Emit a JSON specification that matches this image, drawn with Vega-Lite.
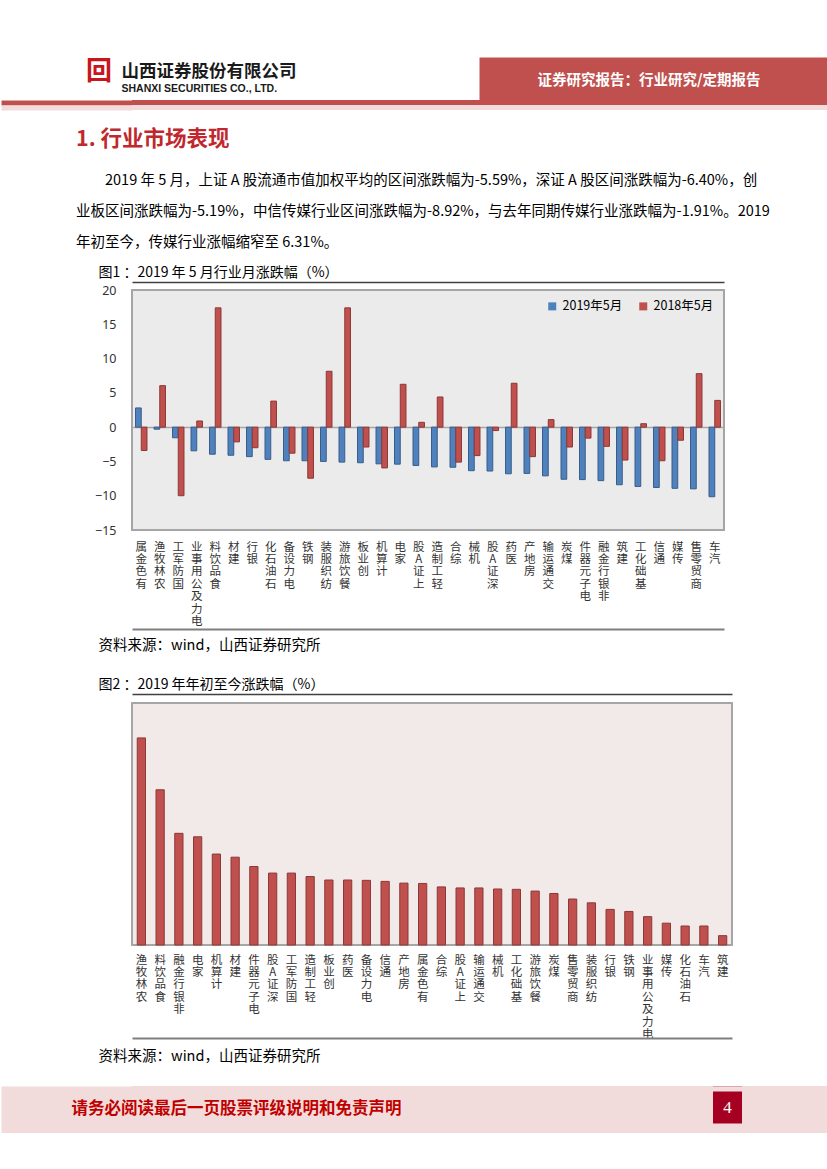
{
  "$schema": "https://vega.github.io/schema/vega-lite/v6.json",
  "background": "#FFFFFF",
  "padding": {"left": 0, "top": 57, "right": 0, "bottom": 0},
  "config": {"view": {"stroke": null}, "font": "Noto Sans CJK SC"},
  "resolve": {"scale": {"color": "independent"}, "legend": {"color": "independent"}},
  "datasets": {
    "monthly": [
      {"cat": "有色金属", "series": "2019年5月", "value": 2.8}, {"cat": "有色金属", "series": "2018年5月", "value": -3.4},
      {"cat": "农林牧渔", "series": "2019年5月", "value": -0.3}, {"cat": "农林牧渔", "series": "2018年5月", "value": 6.05},
      {"cat": "国防军工", "series": "2019年5月", "value": -1.55}, {"cat": "国防军工", "series": "2018年5月", "value": -10.0},
      {"cat": "电力及公用事业", "series": "2019年5月", "value": -3.45}, {"cat": "电力及公用事业", "series": "2018年5月", "value": 0.9},
      {"cat": "食品饮料", "series": "2019年5月", "value": -3.95}, {"cat": "食品饮料", "series": "2018年5月", "value": 17.4},
      {"cat": "建材", "series": "2019年5月", "value": -4.1}, {"cat": "建材", "series": "2018年5月", "value": -2.15},
      {"cat": "银行", "series": "2019年5月", "value": -4.3}, {"cat": "银行", "series": "2018年5月", "value": -3.0},
      {"cat": "石油石化", "series": "2019年5月", "value": -4.7}, {"cat": "石油石化", "series": "2018年5月", "value": 3.8},
      {"cat": "电力设备", "series": "2019年5月", "value": -4.9}, {"cat": "电力设备", "series": "2018年5月", "value": -3.8},
      {"cat": "钢铁", "series": "2019年5月", "value": -4.9}, {"cat": "钢铁", "series": "2018年5月", "value": -7.45},
      {"cat": "纺织服装", "series": "2019年5月", "value": -5.0}, {"cat": "纺织服装", "series": "2018年5月", "value": 8.15},
      {"cat": "餐饮旅游", "series": "2019年5月", "value": -5.1}, {"cat": "餐饮旅游", "series": "2018年5月", "value": 17.4},
      {"cat": "创业板", "series": "2019年5月", "value": -5.19}, {"cat": "创业板", "series": "2018年5月", "value": -2.9},
      {"cat": "计算机", "series": "2019年5月", "value": -5.35}, {"cat": "计算机", "series": "2018年5月", "value": -5.95},
      {"cat": "家电", "series": "2019年5月", "value": -5.4}, {"cat": "家电", "series": "2018年5月", "value": 6.25},
      {"cat": "上证A股", "series": "2019年5月", "value": -5.59}, {"cat": "上证A股", "series": "2018年5月", "value": 0.7},
      {"cat": "轻工制造", "series": "2019年5月", "value": -5.8}, {"cat": "轻工制造", "series": "2018年5月", "value": 4.4},
      {"cat": "综合", "series": "2019年5月", "value": -5.85}, {"cat": "综合", "series": "2018年5月", "value": -5.1},
      {"cat": "机械", "series": "2019年5月", "value": -6.35}, {"cat": "机械", "series": "2018年5月", "value": -4.15},
      {"cat": "深证A股", "series": "2019年5月", "value": -6.4}, {"cat": "深证A股", "series": "2018年5月", "value": -0.5},
      {"cat": "医药", "series": "2019年5月", "value": -6.8}, {"cat": "医药", "series": "2018年5月", "value": 6.4},
      {"cat": "房地产", "series": "2019年5月", "value": -6.75}, {"cat": "房地产", "series": "2018年5月", "value": -4.3},
      {"cat": "交通运输", "series": "2019年5月", "value": -7.1}, {"cat": "交通运输", "series": "2018年5月", "value": 1.1},
      {"cat": "煤炭", "series": "2019年5月", "value": -7.6}, {"cat": "煤炭", "series": "2018年5月", "value": -2.9},
      {"cat": "电子元器件", "series": "2019年5月", "value": -7.65}, {"cat": "电子元器件", "series": "2018年5月", "value": -1.6},
      {"cat": "非银行金融", "series": "2019年5月", "value": -7.8}, {"cat": "非银行金融", "series": "2018年5月", "value": -2.8},
      {"cat": "建筑", "series": "2019年5月", "value": -8.4}, {"cat": "建筑", "series": "2018年5月", "value": -4.8},
      {"cat": "基础化工", "series": "2019年5月", "value": -8.65}, {"cat": "基础化工", "series": "2018年5月", "value": 0.5},
      {"cat": "通信", "series": "2019年5月", "value": -8.8}, {"cat": "通信", "series": "2018年5月", "value": -4.9},
      {"cat": "传媒", "series": "2019年5月", "value": -8.92}, {"cat": "传媒", "series": "2018年5月", "value": -1.91},
      {"cat": "商贸零售", "series": "2019年5月", "value": -9.0}, {"cat": "商贸零售", "series": "2018年5月", "value": 7.8},
      {"cat": "汽车", "series": "2019年5月", "value": -10.15}, {"cat": "汽车", "series": "2018年5月", "value": 3.9}
    ],
    "ytd": [
      {"cat": "农林牧渔", "value": 59.9}, {"cat": "食品饮料", "value": 44.9}, {"cat": "非银行金融", "value": 32.3},
      {"cat": "家电", "value": 31.3}, {"cat": "计算机", "value": 26.3}, {"cat": "建材", "value": 25.4},
      {"cat": "电子元器件", "value": 22.7}, {"cat": "深证A股", "value": 20.8}, {"cat": "国防军工", "value": 20.8},
      {"cat": "轻工制造", "value": 19.8}, {"cat": "创业板", "value": 18.8}, {"cat": "医药", "value": 18.8},
      {"cat": "电力设备", "value": 18.7}, {"cat": "通信", "value": 18.4}, {"cat": "房地产", "value": 17.9},
      {"cat": "有色金属", "value": 17.8}, {"cat": "综合", "value": 16.8}, {"cat": "上证A股", "value": 16.5},
      {"cat": "交通运输", "value": 16.5}, {"cat": "机械", "value": 16.2}, {"cat": "基础化工", "value": 16.1},
      {"cat": "餐饮旅游", "value": 15.6}, {"cat": "煤炭", "value": 14.9}, {"cat": "商贸零售", "value": 13.3},
      {"cat": "纺织服装", "value": 12.2}, {"cat": "银行", "value": 10.3}, {"cat": "钢铁", "value": 9.7},
      {"cat": "电力及公用事业", "value": 8.2}, {"cat": "传媒", "value": 6.31}, {"cat": "石油石化", "value": 5.5},
      {"cat": "汽车", "value": 5.5}, {"cat": "建筑", "value": 2.7}
    ]
  },
  "concat": [
    {
      "width": 696,
      "height": 43,
      "layer": [
        {
          "data": {"values": []},
          "mark": "point",
          "encoding": {
            "x": {"field": "a", "type": "quantitative", "scale": {"domain": [0, 1]},
              "axis": {"orient": "bottom", "labels": false, "ticks": false, "domain": false, "grid": false,
                "title": "SHANXI SECURITIES CO., LTD.", "titleX": -11, "titleY": -12, "titleAlign": "left", "titleBaseline": "middle",
                "titleFont": "Liberation Sans", "titleFontSize": 10.5, "titleFontWeight": "bold", "titleColor": "#1A1A1A"}},
            "y": {"field": "b", "type": "quantitative", "scale": {"domain": [0, 1]},
              "axis": {"orient": "left", "labels": false, "ticks": false, "domain": false, "grid": false,
                "title": "山西证券股份有限公司", "titleAngle": 0, "titleX": -11, "titleY": 14, "titleAlign": "left", "titleBaseline": "middle",
                "titleFont": "Noto Sans CJK SC", "titleFontSize": 17.5, "titleFontWeight": "bold", "titleColor": "#1A1A1A"}}
          }
        },
        {
          "data": {"values": []},
          "mark": "point",
          "encoding": {
            "x": {"field": "a", "type": "quantitative", "scale": {"domain": [0, 1]},
              "axis": {"orient": "top", "labels": false, "ticks": false, "domain": false, "grid": false,
                "title": "回", "titleX": -33.5, "titleY": 14, "titleAlign": "center", "titleBaseline": "middle",
                "titleFont": "Noto Sans CJK SC", "titleFontSize": 26, "titleFontWeight": "bold", "titleColor": "#C8161D"}},
            "y": {"field": "b", "type": "quantitative", "scale": {"domain": [0, 1]},
              "axis": {"orient": "right", "offset": -174.5, "labels": false, "ticks": false, "grid": false, "domain": true,
                "domainColor": "#C0504D", "domainWidth": 349,
                "title": "证券研究报告：行业研究/定期报告", "titleAngle": 0, "titleX": -5, "titleY": 23, "titleAlign": "center", "titleBaseline": "middle",
                "titleFont": "Noto Sans CJK SC", "titleFontSize": 14.5, "titleFontWeight": "bold", "titleColor": "#FFFFFF"}}
          }
        }
      ]
    },
    {
      "width": 696, "height": 5,
      "view": {"fill": "#C0504D", "stroke": null},
      "data": {"values": []},
      "mark": "point",
      "encoding": {
        "y": {"field": "b", "type": "quantitative", "scale": {"domain": [0, 1]},
          "axis": {"orient": "left", "offset": 65.5, "labels": false, "ticks": false, "grid": false, "domain": true,
            "domainColor": "#C0504D", "domainWidth": 131, "title": null}}
      }
    },
    {
      "width": 696, "height": 5,
      "view": {"fill": "#F2DCDB", "stroke": null},
      "data": {"values": []},
      "mark": "point",
      "encoding": {
        "y": {"field": "b", "type": "quantitative", "scale": {"domain": [0, 1]},
          "axis": {"orient": "left", "offset": 65.5, "labels": false, "ticks": false, "grid": false, "domain": true,
            "domainColor": "#F2DCDB", "domainWidth": 131, "title": null}}
      }
    },
    {
      "width": 1, "height": 18,
      "data": {"values": []},
      "mark": "point",
      "encoding": {}
    },
    {
      "width": 592,
      "height": 240,
      "view": {"fill": "#EBEBEB", "stroke": "#A6A6A6", "strokeWidth": 2},
      "title": {
        "text": "1. 行业市场表现",
        "subtitle": [
          "\u200b\u3000\u30002019 年 5 月，上证 A 股流通市值加权平均的区间涨跌幅为-5.59%，深证 A 股区间涨跌幅为-6.40%，创",
          "业板区间涨跌幅为-5.19%，中信传媒行业区间涨跌幅为-8.92%，与去年同期传媒行业涨跌幅为-1.91%。2019",
          "年初至今，传媒行业涨幅缩窄至 6.31%。"
        ],
        "anchor": "start", "frame": "group", "dx": -56, "offset": 16,
        "font": "Noto Sans CJK SC", "fontSize": 21.5, "fontWeight": "bold", "color": "#C0282D",
        "subtitleFont": "Noto Sans CJK SC", "subtitleFontSize": 14.5, "subtitleColor": "#000000",
        "subtitleLineHeight": 31, "subtitlePadding": 23
      },
      "data": {"name": "monthly"},
      "layer": [
        {
          "transform": [{"filter": "datum.series === '2019年5月'"}],
          "mark": {"type": "bar", "stroke": "#385D8A", "strokeWidth": 1},
          "encoding": {
            "x": {"field": "cat", "type": "nominal", "sort": null,
              "scale": {"paddingInner": 0.38, "paddingOuter": 0.19},
              "axis": {"orient": "bottom", "offset": 99, "labelAngle": 0,
                "labelExpr": "reverse(split(datum.label, ''))",
                "labelBaseline": "top", "labelAlign": "center", "labelPadding": -88, "labelLineHeight": 12.4,
                "labelFont": "Noto Sans CJK SC", "labelFontSize": 11.5, "labelColor": "#333333",
                "labelOverlap": false, "labelBound": false, "labelFlush": false, "labelLimit": 0,
                "ticks": false, "tickSize": 0, "domain": true, "domainColor": "#7F7F7F", "domainWidth": 2, "grid": false,
                "title": "资料来源：wind，山西证券研究所", "titleX": -34, "titleY": 16, "titleAlign": "left", "titleBaseline": "middle",
                "titleFont": "Noto Sans CJK SC", "titleFontSize": 14.5, "titleFontWeight": "normal", "titleColor": "#000000"}},
            "xOffset": {"field": "series", "type": "nominal", "scale": {"domain": ["2019年5月", "2018年5月"], "paddingInner": 0, "paddingOuter": 0}},
            "y": {"field": "value", "type": "quantitative", "scale": {"domain": [-15, 20], "nice": false, "zero": false},
              "axis": {"orient": "left", "values": [-15, -10, -5, 0, 5, 10, 15, 20], "labelPadding": 16, "ticks": false, "tickSize": 0,
                "domain": false, "grid": false, "title": null, "labelFont": "Noto Sans", "labelFontSize": 12.5, "labelColor": "#333333",
                "minExtent": 131, "maxExtent": 131}},
            "color": {"field": "series", "type": "nominal",
              "scale": {"domain": ["2019年5月", "2018年5月"], "range": ["#4F81BD", "#C0504D"]},
              "legend": {"orient": "top-right", "direction": "horizontal", "offset": 10, "title": null, "symbolType": "square",
                "symbolSize": 64, "symbolStrokeWidth": 0, "labelFont": "Noto Sans CJK SC", "labelFontSize": 12.5, "labelColor": "#000000",
                "columnPadding": 14}}
          }
        },
        {
          "transform": [{"filter": "datum.series === '2018年5月'"}],
          "mark": {"type": "bar", "stroke": "#8C3836", "strokeWidth": 1},
          "encoding": {
            "x": {"field": "cat", "type": "nominal", "sort": null,
              "scale": {"paddingInner": 0.38, "paddingOuter": 0.19},
              "axis": {"orient": "top", "offset": 8, "labels": false, "ticks": false, "tickSize": 0, "domain": true,
                "domainColor": "#404040", "domainWidth": 1.5, "grid": false,
                "title": "图1 ：2019 年 5 月行业月涨跌幅（%）", "titleX": -34, "titleY": -3, "titleAlign": "left", "titleBaseline": "bottom",
                "titleFont": "Noto Sans CJK SC", "titleFontSize": 14, "titleFontWeight": "normal", "titleColor": "#000000"}},
            "xOffset": {"field": "series", "type": "nominal", "scale": {"domain": ["2019年5月", "2018年5月"], "paddingInner": 0, "paddingOuter": 0}},
            "y": {"field": "value", "type": "quantitative", "scale": {"domain": [-15, 20], "nice": false, "zero": false},
              "axis": {"orient": "right", "values": [0], "labels": false, "ticks": false, "domain": false, "grid": true,
                "gridColor": "#A6A6A6", "gridWidth": 1.5, "title": null}},
            "color": {"field": "series", "type": "nominal",
              "scale": {"domain": ["2019年5月", "2018年5月"], "range": ["#4F81BD", "#C0504D"]}}
          }
        }
      ]
    },
    {
      "width": 1, "height": 23,
      "data": {"values": []},
      "mark": "point",
      "encoding": {}
    },
    {
      "width": 600,
      "height": 242,
      "view": {"fill": "#F2E9E9", "stroke": "#A6A6A6", "strokeWidth": 2},
      "data": {"name": "ytd"},
      "layer": [
        {
          "transform": [{"filter": {"field": "cat", "oneOf": ["农林牧渔", "食品饮料", "非银行金融", "家电", "计算机", "建材", "电子元器件", "深证A股", "国防军工", "轻工制造", "创业板", "医药", "电力设备", "通信", "房地产", "有色金属"]}}],
          "mark": {"type": "bar", "color": "#C0504D", "stroke": "#8C3836", "strokeWidth": 1},
          "encoding": {
            "x": {"field": "cat", "type": "nominal",
              "scale": {"domain": ["农林牧渔", "食品饮料", "非银行金融", "家电", "计算机", "建材", "电子元器件", "深证A股", "国防军工", "轻工制造", "创业板", "医药", "电力设备", "通信", "房地产", "有色金属", "综合", "上证A股", "交通运输", "机械", "基础化工", "餐饮旅游", "煤炭", "商贸零售", "纺织服装", "银行", "钢铁", "电力及公用事业", "传媒", "石油石化", "汽车", "建筑"], "paddingInner": 0.56, "paddingOuter": 0.28},
              "axis": {"orient": "bottom", "offset": 93, "labelAngle": 0,
                "labelExpr": "reverse(split(datum.label, ''))",
                "labelBaseline": "top", "labelAlign": "center", "labelPadding": -84, "labelLineHeight": 12.4,
                "labelFont": "Noto Sans CJK SC", "labelFontSize": 11.5, "labelColor": "#333333",
                "labelOverlap": false, "labelBound": false, "labelFlush": false, "labelLimit": 0,
                "ticks": false, "tickSize": 0, "domain": true, "domainColor": "#7F7F7F", "domainWidth": 2, "grid": false,
                "title": "资料来源：wind，山西证券研究所", "titleX": -34, "titleY": 18, "titleAlign": "left", "titleBaseline": "middle",
                "titleFont": "Noto Sans CJK SC", "titleFontSize": 14.5, "titleFontWeight": "normal", "titleColor": "#000000"}},
            "y": {"field": "value", "type": "quantitative", "scale": {"domain": [0, 70], "nice": false},
              "axis": {"orient": "left", "values": [0, 10, 20, 30, 40, 50, 60, 70], "labelPadding": 16, "ticks": false, "tickSize": 0,
                "domain": false, "grid": false, "title": null, "labelFont": "Noto Sans", "labelFontSize": 12.5, "labelColor": "#333333",
                "minExtent": 131, "maxExtent": 131}}
          }
        },
        {
          "transform": [{"filter": {"field": "cat", "oneOf": ["综合", "上证A股", "交通运输", "机械", "基础化工", "餐饮旅游", "煤炭", "商贸零售", "纺织服装", "银行", "钢铁", "电力及公用事业", "传媒", "石油石化", "汽车", "建筑"]}}],
          "mark": {"type": "bar", "color": "#C0504D", "stroke": "#8C3836", "strokeWidth": 1},
          "encoding": {
            "x": {"field": "cat", "type": "nominal",
              "scale": {"domain": ["农林牧渔", "食品饮料", "非银行金融", "家电", "计算机", "建材", "电子元器件", "深证A股", "国防军工", "轻工制造", "创业板", "医药", "电力设备", "通信", "房地产", "有色金属", "综合", "上证A股", "交通运输", "机械", "基础化工", "餐饮旅游", "煤炭", "商贸零售", "纺织服装", "银行", "钢铁", "电力及公用事业", "传媒", "石油石化", "汽车", "建筑"], "paddingInner": 0.56, "paddingOuter": 0.28},
              "axis": {"orient": "top", "offset": 9, "labels": false, "ticks": false, "tickSize": 0, "domain": true,
                "domainColor": "#404040", "domainWidth": 1.5, "grid": false,
                "title": "图2 ：2019 年年初至今涨跌幅（%）", "titleX": -34, "titleY": -3, "titleAlign": "left", "titleBaseline": "bottom",
                "titleFont": "Noto Sans CJK SC", "titleFontSize": 14, "titleFontWeight": "normal", "titleColor": "#000000"}},
            "y": {"field": "value", "type": "quantitative", "scale": {"domain": [0, 70], "nice": false}, "axis": null}
          }
        }
      ]
    },
    {
      "width": 1, "height": 22,
      "data": {"values": []},
      "mark": "point",
      "encoding": {}
    },
    {
      "width": 696,
      "height": 47,
      "view": {"fill": "#F2DCDB", "stroke": null},
      "layer": [
        {
          "data": {"values": []},
          "mark": "point",
          "encoding": {
            "x": {"field": "a", "type": "quantitative", "scale": {"domain": [0, 1]},
              "axis": {"orient": "bottom", "offset": -5, "labels": false, "ticks": false, "grid": false, "domain": true,
                "domainColor": "#F2DCDB", "domainWidth": 10, "title": null, "zindex": 2}},
            "y": {"field": "b", "type": "quantitative", "scale": {"domain": [0, 1]},
              "axis": {"orient": "right", "offset": -101, "labels": false, "ticks": false, "grid": false, "domain": true,
                "domainColor": "#A50021", "domainWidth": 29, "zindex": 1,
                "title": "4", "titleAngle": 0, "titleX": 0, "titleY": 21, "titleAlign": "center", "titleBaseline": "middle",
                "titleFont": "Liberation Serif", "titleFontSize": 17, "titleFontWeight": "normal", "titleColor": "#FFFFFF"}}
          }
        },
        {
          "data": {"values": []},
          "mark": "point",
          "encoding": {
            "x": {"field": "a", "type": "quantitative", "scale": {"domain": [0, 1]},
              "axis": {"orient": "top", "offset": -2.5, "labels": false, "ticks": false, "grid": false, "domain": true,
                "domainColor": "#F2DCDB", "domainWidth": 5, "title": null, "zindex": 2}},
            "y": {"field": "b", "type": "quantitative", "scale": {"domain": [0, 1]},
              "axis": {"orient": "left", "offset": 65.5, "labels": false, "ticks": false, "grid": false, "domain": true,
                "domainColor": "#F2DCDB", "domainWidth": 131, "zindex": 1,
                "title": "请务必阅读最后一页股票评级说明和免责声明", "titleAngle": 0, "titleX": 4.5, "titleY": 22, "titleAlign": "left", "titleBaseline": "middle",
                "titleFont": "Noto Sans CJK SC", "titleFontSize": 16.5, "titleFontWeight": "bold", "titleColor": "#C00000"}}
          }
        }
      ]
    }
  ],
  "columns": 1,
  "spacing": 0,
  "align": "none",
  "bounds": "full"
}
